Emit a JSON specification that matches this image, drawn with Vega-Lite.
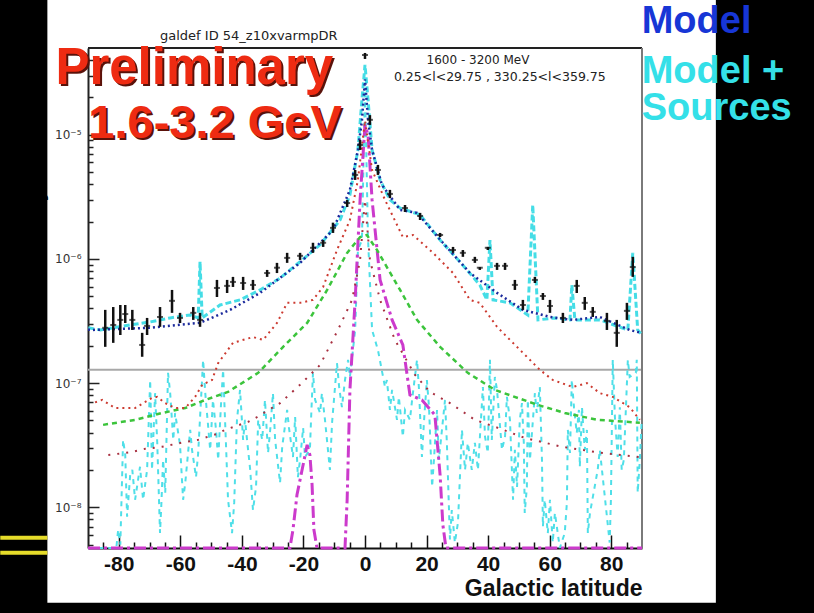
{
  "$schema": "https://vega.github.io/schema/vega-lite/v6.json",
  "width": 554,
  "height": 500,
  "autosize": "none",
  "padding": {"left": 88, "top": 48, "right": 172, "bottom": 65},
  "background": "white",
  "config": {"view": {"stroke": null}, "font": "Liberation Sans"},
  "datasets": {
    "counts": [
      {"b":-84.4,"v":2.79e-7,"lo":1.96e-7,"hi":3.89e-7},
      {"b":-81.8,"v":2.94e-7,"lo":2.11e-7,"hi":4.1e-7},
      {"b":-79.5,"v":3.23e-7,"lo":2.44e-7,"hi":4.26e-7},
      {"b":-77.9,"v":3.6e-7,"lo":3.05e-7,"hi":4.26e-7},
      {"b":-75.6,"v":3.23e-7,"lo":2.68e-7,"hi":3.89e-7},
      {"b":-72.4,"v":2.03e-7,"lo":1.63e-7,"hi":2.54e-7},
      {"b":-70.8,"v":2.89e-7,"lo":2.44e-7,"hi":3.35e-7},
      {"b":-66.6,"v":3.41e-7,"lo":2.84e-7,"hi":4.1e-7},
      {"b":-62.7,"v":4.6e-7,"lo":3.68e-7,"hi":5.63e-7},
      {"b":-60.1,"v":3.35e-7,"lo":3.05e-7,"hi":3.68e-7},
      {"b":-55.8,"v":3.68e-7,"lo":3.23e-7,"hi":4.1e-7},
      {"b":-53.6,"v":3.23e-7,"lo":2.84e-7,"hi":3.68e-7},
      {"b":-48.1,"v":5.84e-7,"lo":4.94e-7,"hi":6.78e-7},
      {"b":-44.8,"v":6.07e-7,"lo":5.32e-7,"hi":6.78e-7},
      {"b":-42.9,"v":6.53e-7,"lo":5.95e-7,"hi":7.17e-7},
      {"b":-39.6,"v":6.4e-7,"lo":5.63e-7,"hi":7.17e-7},
      {"b":-36.4,"v":6.18e-7,"lo":5.63e-7,"hi":6.78e-7},
      {"b":-31.8,"v":7.7e-7,"lo":7.17e-7,"hi":8.16e-7},
      {"b":-28.6,"v":8.5e-7,"lo":7.7e-7,"hi":9.3e-7},
      {"b":-25.3,"v":1.02e-6,"lo":9.3e-7,"hi":1.12e-6},
      {"b":-21.1,"v":1.06e-6,"lo":9.82e-7,"hi":1.12e-6},
      {"b":-16.9,"v":1.23e-6,"lo":1.12e-6,"hi":1.35e-6},
      {"b":-13.6,"v":1.35e-6,"lo":1.25e-6,"hi":1.42e-6},
      {"b":-10.4,"v":1.78e-6,"lo":1.62e-6,"hi":1.96e-6},
      {"b":-5.8,"v":2.82e-6,"lo":2.62e-6,"hi":2.99e-6},
      {"b":-3.2,"v":4.75e-6,"lo":4.33e-6,"hi":5.21e-6},
      {"b":-1.6,"v":8.28e-6,"lo":7.55e-6,"hi":9.09e-6},
      {"b":0,"v":4.39e-5,"lo":4.08e-5,"hi":4.56e-5},
      {"b":1.6,"v":1.32e-5,"lo":1.2e-5,"hi":1.44e-5},
      {"b":4.2,"v":5.21e-6,"lo":4.75e-6,"hi":5.72e-6},
      {"b":8.1,"v":3.34e-6,"lo":3.09e-6,"hi":3.6e-6},
      {"b":13,"v":2.57e-6,"lo":2.39e-6,"hi":2.72e-6},
      {"b":17.9,"v":2.22e-6,"lo":2.06e-6,"hi":2.35e-6},
      {"b":24.4,"v":1.56e-6,"lo":1.5e-6,"hi":1.62e-6},
      {"b":28.6,"v":1.18e-6,"lo":1.12e-6,"hi":1.25e-6},
      {"b":31.8,"v":1.12e-6,"lo":1.04e-6,"hi":1.18e-6},
      {"b":35.7,"v":9.82e-7,"lo":9.3e-7,"hi":1.04e-6},
      {"b":37.3,"v":8.5e-7,"lo":8.16e-7,"hi":8.6e-7},
      {"b":39.9,"v":1.23e-6,"lo":1.18e-6,"hi":1.25e-6},
      {"b":42.9,"v":8.8e-7,"lo":8.16e-7,"hi":9.3e-7},
      {"b":45.5,"v":8.8e-7,"lo":8.16e-7,"hi":9.3e-7},
      {"b":48.7,"v":6.18e-7,"lo":5.63e-7,"hi":6.78e-7},
      {"b":51.3,"v":4.26e-7,"lo":3.89e-7,"hi":4.68e-7},
      {"b":55.2,"v":6.78e-7,"lo":6.4e-7,"hi":7.17e-7},
      {"b":57.8,"v":5.03e-7,"lo":4.68e-7,"hi":5.32e-7},
      {"b":60.1,"v":4.18e-7,"lo":3.68e-7,"hi":4.68e-7},
      {"b":64.3,"v":3.35e-7,"lo":3.05e-7,"hi":3.68e-7},
      {"b":68.8,"v":6.07e-7,"lo":5.32e-7,"hi":6.78e-7},
      {"b":71.4,"v":4.43e-7,"lo":3.89e-7,"hi":4.94e-7},
      {"b":74,"v":3.75e-7,"lo":3.41e-7,"hi":4.1e-7},
      {"b":78.6,"v":3.17e-7,"lo":2.68e-7,"hi":3.68e-7},
      {"b":81.8,"v":2.54e-7,"lo":1.96e-7,"hi":3.23e-7},
      {"b":85.1,"v":3.82e-7,"lo":3.23e-7,"hi":4.43e-7},
      {"b":87,"v":8.6e-7,"lo":7.17e-7,"hi":1.04e-6}
    ],
    "model": [
      {"b":-90,"v":2.7e-7},{"b":-88.6,"v":2.68e-7},{"b":-69.8,"v":2.79e-7},{"b":-53.6,"v":3.06e-7},
      {"b":-43.8,"v":3.89e-7},{"b":-34.1,"v":5.33e-7},{"b":-21.1,"v":9.29e-7},{"b":-10.4,"v":1.71e-6},
      {"b":-4.9,"v":3.6e-6},{"b":-2.3,"v":7.55e-6},{"b":-1,"v":1.3e-5},{"b":0,"v":2.8e-5},
      {"b":1,"v":1.3e-5},{"b":2.3,"v":7.55e-6},{"b":5.5,"v":3.95e-6},{"b":11.4,"v":2.48e-6},
      {"b":16.9,"v":2.35e-6},{"b":25.3,"v":1.35e-6},{"b":34.1,"v":7.71e-7},{"b":42.9,"v":5.33e-7},
      {"b":51.3,"v":3.89e-7},{"b":60.1,"v":3.41e-7},{"b":67.5,"v":3.23e-7},{"b":76.3,"v":3.41e-7},
      {"b":86,"v":2.68e-7},{"b":90,"v":2.53e-7}
    ],
    "total": [
      {"b":-89.9,"v":2.79e-7},{"b":-86,"v":2.68e-7},{"b":-76.3,"v":2.94e-7},{"b":-69.8,"v":3.11e-7},
      {"b":-63.3,"v":3.35e-7},{"b":-56.8,"v":3.54e-7},{"b":-54.2,"v":3.35e-7},{"b":-53.6,"v":9.5e-7},
      {"b":-52.9,"v":3.35e-7},{"b":-47.1,"v":4.26e-7},{"b":-40.6,"v":4.68e-7},{"b":-34.1,"v":5.63e-7},
      {"b":-27.6,"v":7.0e-7},{"b":-21.1,"v":9.5e-7},{"b":-14.6,"v":1.3e-6},{"b":-8.1,"v":2.06e-6},
      {"b":-4.9,"v":3.28e-6},{"b":-2.3,"v":7.55e-6},{"b":-1,"v":1.91e-5},{"b":0,"v":3.65e-5},
      {"b":1,"v":1.91e-5},{"b":2.3,"v":7.55e-6},{"b":4.9,"v":4.33e-6},{"b":8.1,"v":2.99e-6},
      {"b":11.4,"v":2.57e-6},{"b":17.9,"v":2.27e-6},{"b":24.4,"v":1.42e-6},{"b":30.8,"v":9.5e-7},
      {"b":37.3,"v":6.18e-7},{"b":39.6,"v":4.68e-7},{"b":40.6,"v":1.42e-6},{"b":41.6,"v":4.68e-7},
      {"b":47.1,"v":4.43e-7},{"b":52.9,"v":3.54e-7},{"b":54.5,"v":2.72e-6},{"b":56.2,"v":3.23e-7},
      {"b":61.7,"v":3.35e-7},{"b":66.6,"v":3.23e-7},{"b":67.2,"v":6.18e-7},{"b":68.2,"v":3.23e-7},
      {"b":76.3,"v":3.23e-7},{"b":85.4,"v":2.68e-7},{"b":87,"v":1.12e-6},{"b":88.6,"v":2.68e-7},
      {"b":90,"v":2.44e-7}
    ],
    "sources": [
      {"b":-89.9,"v":4.7e-9},{"b":-80.8,"v":4.7e-9},{"b":-80.2,"v":6.6e-9},{"b":-79.5,"v":5.0e-9},
      {"b":-78.6,"v":3.49e-8},{"b":-77.9,"v":2.64e-8},{"b":-77.3,"v":8.4e-9},{"b":-76.3,"v":1.82e-8},
      {"b":-75.6,"v":2.0e-8},{"b":-74.7,"v":1.15e-8},{"b":-73.1,"v":2.12e-8},{"b":-72.1,"v":1.15e-8},
      {"b":-70.8,"v":2.0e-8},{"b":-69.8,"v":1.06e-7},{"b":-69.2,"v":2.0e-8},{"b":-68.2,"v":8.3e-8},
      {"b":-67.5,"v":3.3e-8},{"b":-66.6,"v":6.2e-9},{"b":-66.2,"v":1.01e-8},{"b":-65.6,"v":2.41e-8},
      {"b":-64.9,"v":1.31e-8},{"b":-64.0,"v":1.21e-7},{"b":-63.3,"v":8.3e-8},{"b":-62.3,"v":3.49e-8},
      {"b":-61.7,"v":5.75e-8},{"b":-60.1,"v":3.18e-8},{"b":-59.1,"v":1.15e-8},{"b":-58.4,"v":1.57e-8},
      {"b":-56.8,"v":4.2e-8},{"b":-56.2,"v":2.9e-8},{"b":-54.9,"v":1.75e-8},{"b":-54.2,"v":2.74e-8},
      {"b":-52.6,"v":1.54e-7},{"b":-51.9,"v":8.3e-8},{"b":-50.3,"v":2.9e-8},{"b":-49.4,"v":7.32e-8},
      {"b":-48.4,"v":4.2e-8},{"b":-47.7,"v":2.41e-8},{"b":-46.8,"v":6.67e-8},{"b":-46.1,"v":1.28e-7},
      {"b":-45.1,"v":2.9e-8},{"b":-44.5,"v":1.15e-8},{"b":-43.2,"v":6.2e-9},{"b":-42.5,"v":1.09e-8},
      {"b":-41.6,"v":5.06e-8},{"b":-40.6,"v":8.81e-8},{"b":-39.6,"v":3.49e-8},{"b":-39.0,"v":5.06e-8},
      {"b":-37.3,"v":2.0e-8},{"b":-36.4,"v":9.5e-9},{"b":-35.4,"v":1.46e-8},{"b":-34.7,"v":5.06e-8},
      {"b":-33.4,"v":3.49e-8},{"b":-32.5,"v":7.32e-8},{"b":-31.5,"v":2.74e-8},{"b":-30.8,"v":4.2e-8},
      {"b":-29.9,"v":8.3e-8},{"b":-29.2,"v":3.49e-8},{"b":-27.6,"v":1.57e-8},{"b":-26.9,"v":3.07e-8},
      {"b":-25.3,"v":6.08e-8},{"b":-24.7,"v":4.36e-8},{"b":-23.4,"v":2.54e-8},{"b":-22.7,"v":5.33e-8},
      {"b":-21.8,"v":1.75e-8},{"b":-21.1,"v":2.41e-8},{"b":-20.1,"v":4.36e-8},{"b":-19.5,"v":2.54e-8},
      {"b":-17.9,"v":2.9e-8},{"b":-17.5,"v":5.33e-8},{"b":-16.9,"v":1.21e-7},{"b":-16.2,"v":7.32e-8},
      {"b":-14.6,"v":5.75e-8},{"b":-14.0,"v":8.3e-8},{"b":-13.0,"v":5.06e-8},{"b":-11.4,"v":2.0e-8},
      {"b":-10.7,"v":4.8e-8},{"b":-9.1,"v":1.45e-7},{"b":-8.4,"v":9.3e-8},{"b":-7.5,"v":6.4e-8},
      {"b":-6.5,"v":1.06e-7},{"b":-5.5,"v":1.54e-7},{"b":-4.9,"v":1.12e-7},{"b":-3.2,"v":2.68e-7},
      {"b":-2.3,"v":1.18e-6},{"b":-1.0,"v":1.42e-6},{"b":0,"v":2.3e-5},{"b":1.0,"v":1.42e-6},
      {"b":2.3,"v":2.68e-7},{"b":4.2,"v":1.85e-7},{"b":6.5,"v":9.3e-8},{"b":7.1,"v":1.06e-7},
      {"b":8.1,"v":6.08e-8},{"b":8.8,"v":8.81e-8},{"b":10.4,"v":5.06e-8},{"b":11.0,"v":7.75e-8},
      {"b":12.3,"v":3.7e-8},{"b":13.0,"v":6.08e-8},{"b":14.6,"v":5.06e-8},{"b":15.3,"v":7.32e-8},
      {"b":16.9,"v":1.54e-7},{"b":17.5,"v":9.3e-8},{"b":18.5,"v":2.54e-8},{"b":19.2,"v":5.06e-8},
      {"b":20.1,"v":1.06e-7},{"b":20.8,"v":6.4e-8},{"b":21.8,"v":1.46e-8},{"b":22.4,"v":2.41e-8},
      {"b":23.4,"v":6.08e-8},{"b":24.0,"v":2.41e-8},{"b":26.0,"v":7.32e-8},{"b":26.6,"v":3.3e-8},
      {"b":27.6,"v":5.5e-9},{"b":28.2,"v":9.5e-9},{"b":29.2,"v":5.2e-9},{"b":30.2,"v":7.5e-9},
      {"b":31.5,"v":4.2e-8},{"b":32.5,"v":2.0e-8},{"b":33.4,"v":3.3e-8},{"b":34.7,"v":2.0e-8},
      {"b":35.7,"v":3.3e-8},{"b":36.7,"v":2.0e-8},{"b":38.3,"v":9.3e-8},{"b":39.0,"v":3.7e-8},
      {"b":39.9,"v":2.74e-8},{"b":40.6,"v":1.54e-7},{"b":41.2,"v":3.49e-8},{"b":42.2,"v":1.12e-7},
      {"b":42.9,"v":8.81e-8},{"b":44.5,"v":2.9e-8},{"b":45.5,"v":3.7e-8},{"b":46.1,"v":7.75e-8},
      {"b":47.1,"v":5.06e-8},{"b":48.1,"v":1.15e-8},{"b":48.7,"v":2.9e-8},{"b":49.4,"v":1.46e-8},
      {"b":50.3,"v":5.06e-8},{"b":51.0,"v":6.9e-8},{"b":51.6,"v":3.3e-8},{"b":51.9,"v":9.0e-9},
      {"b":52.6,"v":1.46e-8},{"b":52.9,"v":7.32e-8},{"b":53.6,"v":2.41e-8},{"b":55.2,"v":8.3e-8},
      {"b":55.8,"v":5.75e-8},{"b":56.8,"v":9.3e-8},{"b":57.5,"v":2.41e-8},{"b":57.8,"v":7.0e-9},
      {"b":58.4,"v":1.15e-8},{"b":59.4,"v":6.2e-9},{"b":60.1,"v":1.15e-8},{"b":61.0,"v":5.2e-9},
      {"b":61.7,"v":9.0e-9},{"b":63.3,"v":4.7e-9},{"b":64.9,"v":6.2e-9},{"b":65.6,"v":1.09e-8},
      {"b":65.9,"v":4.2e-8},{"b":66.6,"v":2.74e-8},{"b":67.2,"v":1.06e-7},{"b":67.9,"v":6.4e-8},
      {"b":68.8,"v":3.97e-8},{"b":69.5,"v":6.08e-8},{"b":69.8,"v":2.12e-8},{"b":70.5,"v":6.4e-8},
      {"b":71.4,"v":2.9e-8},{"b":72.1,"v":4.2e-8},{"b":72.4,"v":6.2e-9},{"b":73.1,"v":9.0e-9},
      {"b":75.6,"v":2.0e-8},{"b":76.3,"v":2.9e-8},{"b":79.5,"v":5.2e-9},{"b":79.9,"v":1.15e-8},
      {"b":80.5,"v":1.54e-7},{"b":81.2,"v":5.33e-8},{"b":82.1,"v":2.54e-8},{"b":82.8,"v":6.4e-8},
      {"b":83.4,"v":2.0e-8},{"b":84.1,"v":2.41e-8},{"b":85.4,"v":1.54e-7},{"b":86.0,"v":1.12e-7},
      {"b":88.0,"v":1.21e-7},{"b":88.3,"v":1.54e-7},{"b":88.6,"v":1.31e-8},{"b":89.3,"v":2.41e-8},
      {"b":89.9,"v":5.06e-8}
    ],
    "pion": [
      {"b":-87.7,"v":7.0e-8},{"b":-85.4,"v":7.32e-8},{"b":-81.2,"v":6.3e-8},{"b":-74.7,"v":6.3e-8},
      {"b":-69.2,"v":7.6e-8},{"b":-67.5,"v":7.75e-8},{"b":-64.9,"v":6.9e-8},{"b":-61.7,"v":6.3e-8},
      {"b":-58.4,"v":6.3e-8},{"b":-55.2,"v":7.75e-8},{"b":-52.9,"v":9.7e-8},{"b":-49.7,"v":1.06e-7},
      {"b":-47.7,"v":1.45e-7},{"b":-42.9,"v":2.11e-7},{"b":-36.4,"v":2.35e-7},{"b":-33.1,"v":2.23e-7},
      {"b":-28.6,"v":3.05e-7},{"b":-25.3,"v":4.43e-7},{"b":-21.1,"v":4.43e-7},{"b":-16.9,"v":4.68e-7},
      {"b":-13.6,"v":5.95e-7},{"b":-9.1,"v":1.18e-6},{"b":-4.9,"v":2.06e-6},{"b":-2.3,"v":4.33e-6},
      {"b":0,"v":1.3e-5},{"b":2.3,"v":5.21e-6},{"b":6.5,"v":2.99e-6},{"b":12.3,"v":1.5e-6},
      {"b":15.6,"v":1.56e-6},{"b":22.1,"v":1.12e-6},{"b":28.6,"v":7.7e-7},{"b":34.1,"v":4.68e-7},
      {"b":37.3,"v":4.43e-7},{"b":42.9,"v":2.84e-7},{"b":47.1,"v":2.23e-7},{"b":52.6,"v":1.63e-7},
      {"b":56.8,"v":1.28e-7},{"b":61.0,"v":1.06e-7},{"b":67.5,"v":9.3e-8},{"b":72.1,"v":1.0e-7},
      {"b":76.3,"v":8.3e-8},{"b":80.5,"v":7.75e-8},{"b":86.0,"v":6.4e-8},{"b":89.3,"v":5.06e-8}
    ],
    "ic": [
      {"b":-85.1,"v":4.61e-8},{"b":-74.7,"v":5.06e-8},{"b":-65.9,"v":5.75e-8},{"b":-58.4,"v":6.3e-8},
      {"b":-51.9,"v":7.32e-8},{"b":-44.5,"v":8.5e-8},{"b":-34.7,"v":1.21e-7},{"b":-26.6,"v":1.96e-7},
      {"b":-18.8,"v":3.05e-7},{"b":-12.3,"v":5.63e-7},{"b":-5.8,"v":1.12e-6},{"b":-1.6,"v":1.5e-6},
      {"b":0.6,"v":1.56e-6},{"b":3.9,"v":1.18e-6},{"b":11.4,"v":5.63e-7},{"b":16.9,"v":3.23e-7},
      {"b":24.4,"v":1.96e-7},{"b":33.4,"v":1.21e-7},{"b":42.2,"v":8.81e-8},{"b":56.2,"v":6.67e-8},
      {"b":64.9,"v":5.75e-8},{"b":75.6,"v":5.06e-8},{"b":89.3,"v":4.8e-8}
    ],
    "brems": [
      {"b":-83.4,"v":2.64e-8},{"b":-76.3,"v":2.77e-8},{"b":-71.4,"v":2.96e-8},{"b":-65.9,"v":3.07e-8},
      {"b":-58.4,"v":3.36e-8},{"b":-54.2,"v":3.49e-8},{"b":-48.1,"v":3.9e-8},{"b":-45.5,"v":4.2e-8},
      {"b":-38.0,"v":4.87e-8},{"b":-35.1,"v":5.33e-8},{"b":-27.6,"v":6.9e-8},{"b":-21.1,"v":9.7e-8},
      {"b":-14.6,"v":1.4e-7},{"b":-8.8,"v":2.68e-7},{"b":-4.2,"v":4.68e-7},{"b":-1.6,"v":9.82e-7},
      {"b":0,"v":2.99e-6},{"b":1.6,"v":9.82e-7},{"b":4.9,"v":4.68e-7},{"b":9.7,"v":2.23e-7},
      {"b":16.2,"v":1.17e-7},{"b":21.1,"v":8.5e-8},{"b":27.6,"v":6.9e-8},{"b":35.7,"v":5.06e-8},
      {"b":43.2,"v":4.36e-8},{"b":51.9,"v":3.62e-8},{"b":64.0,"v":3.07e-8},{"b":75.6,"v":2.77e-8},
      {"b":89.3,"v":2.54e-8}
    ],
    "central": [
      {"b":-90,"v":4.7e-9},{"b":-24.4,"v":4.7e-9},{"b":-23.4,"v":6.6e-9},{"b":-22.1,"v":1.26e-8},
      {"b":-20.1,"v":2.2e-8},{"b":-18.8,"v":3.18e-8},{"b":-17.9,"v":2.64e-8},{"b":-17.2,"v":1.52e-8},
      {"b":-16.6,"v":6.58e-9},{"b":-15.6,"v":4.7e-9},{"b":-6.5,"v":4.7e-9},{"b":-5.8,"v":1.15e-8},
      {"b":-4.9,"v":8.81e-8},{"b":-3.2,"v":4.68e-7},{"b":-1.6,"v":2.99e-6},{"b":0,"v":1.2e-5},
      {"b":1,"v":9.96e-6},{"b":2.3,"v":2.99e-6},{"b":4.9,"v":6.78e-7},{"b":8.8,"v":3.23e-7},
      {"b":12.3,"v":2.03e-7},{"b":14.6,"v":8.03e-8},{"b":18.5,"v":7.32e-8},{"b":22.7,"v":5.54e-8},
      {"b":24.4,"v":1.82e-8},{"b":25.3,"v":7.22e-9},{"b":26.3,"v":4.7e-9},{"b":90,"v":4.7e-9}
    ]
  },
  "layer": [
    {
      "encoding": {
        "x": {
          "datum": 0,
          "type": "quantitative",
          "scale": {"domain": [-90, 90], "nice": false, "zero": false},
          "axis": {
            "values": [-85,-80,-75,-70,-65,-60,-55,-50,-45,-40,-35,-30,-25,-20,-15,-10,-5,0,5,10,15,20,25,30,35,40,45,50,55,60,65,70,75,80,85],
            "labelExpr": "datum.value % 20 == 0 ? '' + datum.value : ''",
            "labelOverlap": false, "labelFlush": false, "grid": false,
            "tickSize": {"condition": {"test": "datum.value % 20 == 0", "value": -13}, "value": -6},
            "tickWidth": 1.5, "tickColor": "#111", "domainColor": "#111", "domainWidth": 2,
            "labelFont": "Liberation Sans", "labelFontSize": 21, "labelFontWeight": "bold", "labelColor": "#111", "labelPadding": 18,
            "title": "Galactic latitude", "titleFont": "Liberation Sans", "titleFontSize": 23, "titleFontWeight": "bold", "titleColor": "#111",
            "titleAlign": "right", "titleBaseline": "alphabetic", "titleX": 554, "titleY": 47
          }
        },
        "y": {
          "datum": 1e-6,
          "type": "quantitative",
          "scale": {"type": "log", "domain": [4.7e-9, 5e-5], "nice": false, "zero": false},
          "axis": {
            "values": [5e-9,6e-9,7e-9,8e-9,9e-9,1e-8,2e-8,3e-8,4e-8,5e-8,6e-8,7e-8,8e-8,9e-8,1e-7,2e-7,3e-7,4e-7,5e-7,6e-7,7e-7,8e-7,9e-7,1e-6,2e-6,3e-6,4e-6,5e-6,6e-6,7e-6,8e-6,9e-6,1e-5,2e-5,3e-5,4e-5],
            "labelExpr": "abs(log(datum.value)/LN10 - round(log(datum.value)/LN10)) > 0.001 ? '' : (round(log(datum.value)/LN10) == -5 ? '10⁻⁵' : round(log(datum.value)/LN10) == -6 ? '10⁻⁶' : round(log(datum.value)/LN10) == -7 ? '10⁻⁷' : '10⁻⁸')",
            "labelOverlap": false, "labelFlush": false, "grid": false,
            "tickSize": {"condition": {"test": "abs(log(datum.value)/LN10 - round(log(datum.value)/LN10)) < 0.001", "value": -11}, "value": -5},
            "tickWidth": 1.5, "tickColor": "#222", "domainColor": "#222", "domainWidth": 2,
            "labelFont": "DejaVu Sans", "labelFontSize": 12, "labelColor": "#333", "labelPadding": 18,
            "title": "intensity, cm⁻² sr⁻¹ s⁻¹", "titleFont": "Liberation Sans", "titleFontSize": 22, "titleFontWeight": "bold", "titleColor": "#111",
            "titleAngle": -90, "titleAlign": "right", "titleBaseline": "middle", "titleX": -53, "titleY": 10
          }
        }
      },
      "layer": [
        {"data": {"values": [{}]}, "mark": {"type": "rect", "color": "black"},
         "encoding": {"x": {"datum": -130}, "x2": {"datum": -103.2}, "y": {"datum": 1e-3}, "y2": {"datum": 1e-10}}},
        {"data": {"values": [{}]}, "mark": {"type": "rect", "color": "black"},
         "encoding": {"x": {"datum": 114}, "x2": {"datum": 200}, "y": {"datum": 1e-3}, "y2": {"datum": 1e-10}}},
        {"data": {"values": [{}]}, "mark": {"type": "rect", "color": "black"},
         "encoding": {"x": {"datum": -130}, "x2": {"datum": 200}, "y": {"datum": 1.7e-9}, "y2": {"datum": 1e-10}}},
        {"data": {"values": [{}]}, "mark": {"type": "rule", "color": "#e6dc2a", "strokeWidth": 4},
         "encoding": {"x": {"datum": -118.5}, "x2": {"datum": -103.2}, "y": {"datum": 5.68e-9}}},
        {"data": {"values": [{}]}, "mark": {"type": "rule", "color": "#e6dc2a", "strokeWidth": 4},
         "encoding": {"x": {"datum": -118.5}, "x2": {"datum": -103.2}, "y": {"datum": 4.3e-9}}},
        {"data": {"values": [{}]}, "mark": {"type": "rule", "color": "#a8a8a8", "strokeWidth": 2},
         "encoding": {"x": {"datum": -90}, "x2": {"datum": 90}, "y": {"datum": 1.28e-7}}},
        {"data": {"values": [{}]}, "mark": {"type": "rule", "color": "#222", "strokeWidth": 2},
         "encoding": {"x": {"datum": -90}, "x2": {"datum": 90}, "y": {"datum": 5e-5}}},
        {"data": {"values": [{}]}, "mark": {"type": "rule", "color": "#7a7a7a", "strokeWidth": 2},
         "encoding": {"x": {"datum": 90}, "y": {"datum": 4.7e-9}, "y2": {"datum": 5e-5}}},
        {"data": {"values": [{"t": "galdef ID 54_z10xvarmpDR"}]},
         "mark": {"type": "text", "align": "left", "baseline": "alphabetic", "font": "DejaVu Sans", "fontSize": 13, "color": "#222"},
         "encoding": {"text": {"field": "t"}, "x": {"datum": -66.6}, "y": {"datum": 5.8e-5}}},
        {"data": {"values": [{"t": "1600 - 3200 MeV"}]},
         "mark": {"type": "text", "align": "center", "baseline": "alphabetic", "font": "DejaVu Sans", "fontSize": 12, "color": "#222"},
         "encoding": {"text": {"field": "t"}, "x": {"datum": 36.7}, "y": {"datum": 3.72e-5}}},
        {"data": {"values": [{"t": "0.25<l<29.75 , 330.25<l<359.75"}]},
         "mark": {"type": "text", "align": "center", "baseline": "alphabetic", "font": "DejaVu Sans", "fontSize": 12.5, "color": "#222"},
         "encoding": {"text": {"field": "t"}, "x": {"datum": 43.8}, "y": {"datum": 2.71e-5}}},
        {"data": {"values": [{"t": "Preliminary"}]},
         "mark": {"type": "text", "align": "left", "baseline": "alphabetic", "font": "Liberation Sans", "fontWeight": "bold", "fontSize": 51, "color": "#5a120a", "dx": 2, "dy": 2},
         "encoding": {"text": {"field": "t"}, "x": {"datum": -100.6}, "y": {"datum": 2.56e-5}}},
        {"data": {"values": [{"t": "Preliminary"}]},
         "mark": {"type": "text", "align": "left", "baseline": "alphabetic", "font": "Liberation Sans", "fontWeight": "bold", "fontSize": 51, "color": "#ee2b12"},
         "encoding": {"text": {"field": "t"}, "x": {"datum": -100.6}, "y": {"datum": 2.56e-5}}},
        {"data": {"values": [{"t": "1.6-3.2 GeV"}]},
         "mark": {"type": "text", "align": "left", "baseline": "alphabetic", "font": "Liberation Sans", "fontWeight": "bold", "fontSize": 47, "color": "#5a120a", "dx": 2, "dy": 2},
         "encoding": {"text": {"field": "t"}, "x": {"datum": -89.9}, "y": {"datum": 9.42e-6}}},
        {"data": {"values": [{"t": "1.6-3.2 GeV"}]},
         "mark": {"type": "text", "align": "left", "baseline": "alphabetic", "font": "Liberation Sans", "fontWeight": "bold", "fontSize": 47, "color": "#ee2b12"},
         "encoding": {"text": {"field": "t"}, "x": {"datum": -89.9}, "y": {"datum": 9.42e-6}}},
        {"data": {"values": [{"t": "Model"}]},
         "mark": {"type": "text", "align": "left", "baseline": "alphabetic", "font": "Liberation Sans", "fontWeight": "bold", "fontSize": 38, "color": "#1736d6"},
         "encoding": {"text": {"field": "t"}, "x": {"datum": 89.9}, "y": {"datum": 6.6e-5}}},
        {"data": {"values": [{"t": "Model +"}]},
         "mark": {"type": "text", "align": "left", "baseline": "alphabetic", "font": "Liberation Sans", "fontWeight": "bold", "fontSize": 38, "color": "#34e0e8"},
         "encoding": {"text": {"field": "t"}, "x": {"datum": 89.9}, "y": {"datum": 2.61e-5}}},
        {"data": {"values": [{"t": "Sources"}]},
         "mark": {"type": "text", "align": "left", "baseline": "alphabetic", "font": "Liberation Sans", "fontWeight": "bold", "fontSize": 38, "color": "#34e0e8"},
         "encoding": {"text": {"field": "t"}, "x": {"datum": 89.9}, "y": {"datum": 1.32e-5}}}
      ]
    },
    {
      "encoding": {
        "x": {
          "field": "b",
          "type": "quantitative",
          "scale": {"domain": [-90, 90], "nice": false, "zero": false},
          "axis": {
            "values": [-85,-80,-75,-70,-65,-60,-55,-50,-45,-40,-35,-30,-25,-20,-15,-10,-5,0,5,10,15,20,25,30,35,40,45,50,55,60,65,70,75,80,85],
            "labelExpr": "datum.value % 20 == 0 ? '' + datum.value : ''",
            "labelOverlap": false, "labelFlush": false, "grid": false,
            "tickSize": {"condition": {"test": "datum.value % 20 == 0", "value": -13}, "value": -6},
            "tickWidth": 1.5, "tickColor": "#111", "domainColor": "#111", "domainWidth": 2,
            "labelFont": "Liberation Sans", "labelFontSize": 21, "labelFontWeight": "bold", "labelColor": "#111", "labelPadding": 18,
            "title": "Galactic latitude", "titleFont": "Liberation Sans", "titleFontSize": 23, "titleFontWeight": "bold", "titleColor": "#111",
            "titleAlign": "right", "titleBaseline": "alphabetic", "titleX": 554, "titleY": 47
          }
        },
        "y": {
          "field": "v",
          "type": "quantitative",
          "scale": {"type": "log", "domain": [4.7e-9, 5e-5], "nice": false, "zero": false},
          "axis": {
            "values": [5e-9,6e-9,7e-9,8e-9,9e-9,1e-8,2e-8,3e-8,4e-8,5e-8,6e-8,7e-8,8e-8,9e-8,1e-7,2e-7,3e-7,4e-7,5e-7,6e-7,7e-7,8e-7,9e-7,1e-6,2e-6,3e-6,4e-6,5e-6,6e-6,7e-6,8e-6,9e-6,1e-5,2e-5,3e-5,4e-5],
            "labelExpr": "abs(log(datum.value)/LN10 - round(log(datum.value)/LN10)) > 0.001 ? '' : (round(log(datum.value)/LN10) == -5 ? '10⁻⁵' : round(log(datum.value)/LN10) == -6 ? '10⁻⁶' : round(log(datum.value)/LN10) == -7 ? '10⁻⁷' : '10⁻⁸')",
            "labelOverlap": false, "labelFlush": false, "grid": false,
            "tickSize": {"condition": {"test": "abs(log(datum.value)/LN10 - round(log(datum.value)/LN10)) < 0.001", "value": -11}, "value": -5},
            "tickWidth": 1.5, "tickColor": "#222", "domainColor": "#222", "domainWidth": 2,
            "labelFont": "DejaVu Sans", "labelFontSize": 12, "labelColor": "#333", "labelPadding": 18,
            "title": "intensity, cm⁻² sr⁻¹ s⁻¹", "titleFont": "Liberation Sans", "titleFontSize": 22, "titleFontWeight": "bold", "titleColor": "#111",
            "titleAngle": -90, "titleAlign": "right", "titleBaseline": "middle", "titleX": -53, "titleY": 10
          }
        }
      },
      "layer": [
        {"data": {"name": "sources"}, "mark": {"type": "line", "color": "#4fdfe8", "strokeWidth": 2, "strokeDash": [5, 5]}},
        {"data": {"name": "central"}, "mark": {"type": "line", "color": "#cc3acc", "strokeWidth": 3, "strokeDash": [12, 4, 3, 4]}},
        {"data": {"name": "brems"}, "mark": {"type": "line", "color": "#a83040", "strokeWidth": 2, "strokeDash": [2, 7]}},
        {"data": {"name": "ic"}, "mark": {"type": "line", "color": "#3cc43c", "strokeWidth": 2.5, "strokeDash": [5, 4]}},
        {"data": {"name": "pion"}, "mark": {"type": "line", "color": "#cc3a30", "strokeWidth": 2, "strokeDash": [2, 4]}},
        {"data": {"name": "total"}, "mark": {"type": "line", "color": "#45dde6", "strokeWidth": 3, "strokeDash": [6, 3]}},
        {"data": {"name": "model"}, "mark": {"type": "line", "color": "#1c2a9c", "strokeWidth": 2.5, "strokeDash": [2, 3]}},
        {"data": {"name": "counts"}, "mark": {"type": "rule", "color": "#111", "strokeWidth": 2.5},
         "encoding": {"y": {"field": "lo", "type": "quantitative"}, "y2": {"field": "hi"}}},
        {"data": {"name": "counts"}, "mark": {"type": "tick", "orient": "horizontal", "color": "#111", "size": 6, "thickness": 2}}
      ]
    }
  ]
}
